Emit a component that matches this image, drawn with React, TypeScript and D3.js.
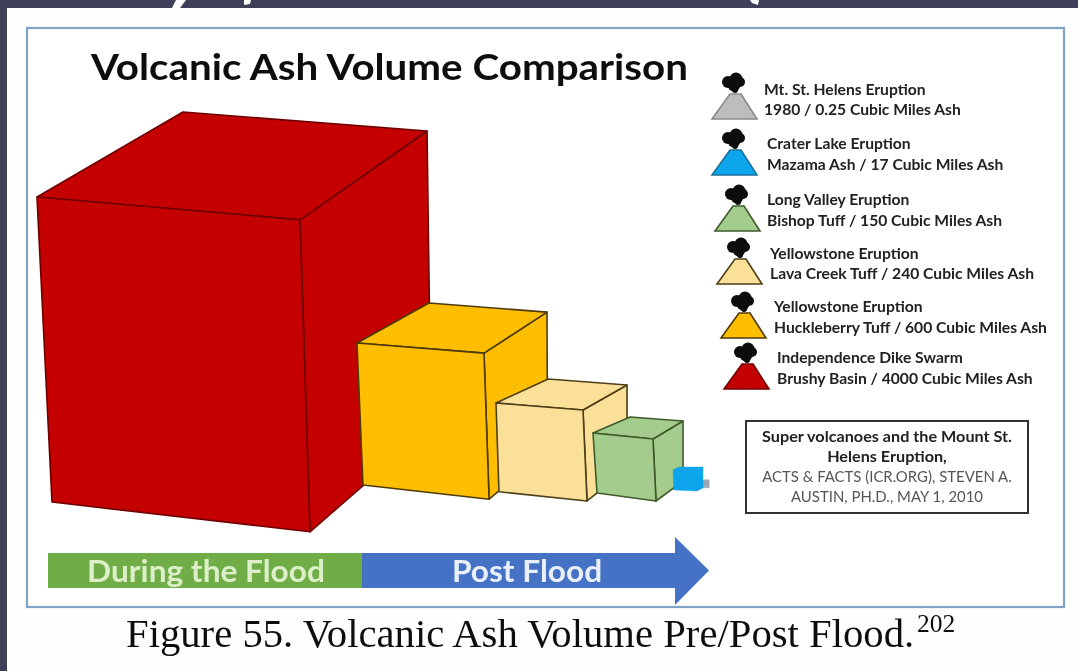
import React from "react";
import * as d3 from "d3";

// ---- data ----
const eruptionNames = ["Mt. St. Helens Eruption", "Crater Lake Eruption", "Long Valley Eruption", "Yellowstone Eruption", "Yellowstone Eruption", "Independence Dike Swarm"];
const ashSources = ["1980", "Mazama Ash", "Bishop Tuff", "Lava Creek Tuff", "Huckleberry Tuff", "Brushy Basin"];
const ashVolumes = [0.25, 17, 150, 240, 600, 4000];
const ashColors = ["#9aa7b0", "#0ea5ec", "#a4cc8c", "#fbe09a", "#ffbe00", "#c40000"];
const legendColors = ["#bdbdbd", "#0ea5ec", "#a4cc8c", "#fbe09a", "#ffbe00", "#c40000"];
const ashEdges = ["#9aa7b0", "#0ea5ec", "#3f5a2c", "#4d3f16", "#4d3a08", "#6e0000"];
const legendEdges = ["#8a8a8a", "#1c6f9c", "#3f5a2c", "#4d3f16", "#4d3a08", "#6e0000"];
const sourceLines = ["Super volcanoes and the Mount St.", "Helens Eruption,", "ACTS & FACTS (ICR.ORG), STEVEN A.", "AUSTIN, PH.D., MAY 1, 2010"];
const timelineLabels = ["During the Flood", "Post Flood"];

// ---- layout ----
const W = 1078, H = 671;
const cubeWidths = [6, 24, 60, 87, 127, 263];
const cubeLeft = [703, 673, 593, 496, 357, 37];
const cubeTop = [480, 470, 433, 403, 343, 197];
const tilt = [0, 0, 0.1, 0.08, 0.08, 0.087];
const dropX = [0, 0.03, 0.067, 0.034, 0.047, 0.057];
const dropY = [1.3, 0.83, 1, 1.02, 1.118, 1.16];
const cornerX = [0, 0, 0.05, 0.046, 0.04, 0.038];
const cornerY = [1.3, 0.875, 1.033, 1.046, 1.15, 1.186];
const depthX = [0, 0.25, 0.617, 0.6, 0.567, 0.555];
const depthY = [0, -0.12, -0.267, -0.276, -0.315, -0.323];
const depthRX = [0, 0.25, 0.5, 0.506, 0.496, 0.483];
const depthRY = [0, -0.125, -0.3, -0.287, -0.323, -0.338];
const floorX = [0, 0.25, 0.45, 0.46, 0.46, 0.46];
const floorY = [0, -0.12, -0.33, -0.36, -0.39, -0.4];
const drawOrder = [5, 4, 3, 2, 0, 1];

const legendLeft = [712, 712, 715, 717, 721, 724];
const legendBase = [119, 175, 231, 284, 338, 389];
const legendTextX = [764, 767, 767, 770, 774, 777];
const legendLine1 = [95, 149, 205, 259, 312, 363];
const legendLine2 = [115, 170, 226, 279, 333, 384];

const sideScale = d3.scaleLinear().domain(ashVolumes).range(cubeWidths);
const poly = d3.line<[number, number]>().curve(d3.curveLinearClosed);
const cloudLobes: [number, number, number][] = [[-6, -1, 6], [2, -4, 6.5], [6, -1, 5], [0, 2, 6.5], [1, 7, 3]];
const ui = "Lato, 'Open Sans', sans-serif";

function Stretched({ x, y, sx, anchor, children, ...rest }: any) {
  return <text transform={`translate(${x},${y}) scale(${sx},1)`} textAnchor={anchor} fontFamily={ui} {...rest}>{children}</text>;
}

function Cube({ i }: { i: number }) {
  const w = sideScale(ashVolumes[i]);
  const x = cubeLeft[i], y = cubeTop[i];
  const tl: [number, number] = [x, y];
  const tr: [number, number] = [x + w, y + w * tilt[i]];
  const bl: [number, number] = [x + w * dropX[i], y + w * dropY[i]];
  const br: [number, number] = [tr[0] + w * cornerX[i], tr[1] + w * cornerY[i]];
  const backTL: [number, number] = [tl[0] + w * depthX[i], tl[1] + w * depthY[i]];
  const backTR: [number, number] = [tr[0] + w * depthRX[i], tr[1] + w * depthRY[i]];
  const backBR: [number, number] = [br[0] + w * floorX[i], br[1] + w * floorY[i]];
  const sw = i === 5 ? 1.6 : i <= 1 ? 0.4 : 1.6;
  const common = { fill: ashColors[i], stroke: ashEdges[i], strokeWidth: sw, strokeLinejoin: "round" as const };
  return (
    <g>
      <path d={poly([tr, backTR, backBR, br])!} {...common} />
      <path d={poly([tl, backTL, backTR, tr])!} {...common} />
      <path d={poly([tl, tr, br, bl])!} {...common} />
    </g>
  );
}

function Volcano({ i }: { i: number }) {
  const l = legendLeft[i], b = legendBase[i];
  const shape: [number, number][] = [[l, b], [l + 18, b - 25], [l + 29, b - 25], [l + 45, b]];
  const cx = l + 22, cy = b - 36;
  return (
    <g>
      <path d={poly(shape)!} fill={legendColors[i]} stroke={legendEdges[i]} strokeWidth={1.6} />
      {cloudLobes.map(([dx, dy, r], k) => <circle key={k} cx={cx + dx} cy={cy + dy} r={r} fill="#0c0c0c" />)}
    </g>
  );
}

export default function App() {
  const arrow = {
    left: 48, split: 362, neck: 675, tip: 709, top: 553, bottom: 588, headTop: 537, headBottom: 605,
  };
  const mid = (arrow.top + arrow.bottom) / 2;
  const blueShape: [number, number][] = [
    [arrow.split, arrow.top], [arrow.neck, arrow.top], [arrow.neck, arrow.headTop], [arrow.tip, mid],
    [arrow.neck, arrow.headBottom], [arrow.neck, arrow.bottom], [arrow.split, arrow.bottom],
  ];
  return (
    <svg width={W} height={H} viewBox={`0 0 ${W} ${H}`}
      style={{ position: "absolute", left: 0, top: 0, display: "block" }}>
      <defs>
        <filter id="soft" x={0} y={0} width={W} height={H} filterUnits="userSpaceOnUse">
          <feGaussianBlur stdDeviation={0.7} />
        </filter>
      </defs>
      <g filter="url(#soft)">
        <rect x={0} y={0} width={W} height={H} fill="#3c4159" />
        <rect x={7} y={8} width={W - 7} height={H - 8} fill="#fefefe" />
        <path d="M176,0 L186,0 L180,8 L172,8 Z M244,0 L251,0 L250,4 L244,5 Z M750,0 L759,0 L758,5 L752,3 Z" fill="#fefefe" />
        <rect x={27} y={28} width={1037} height={579} fill="#ffffff" stroke="#7fa3c4" strokeWidth={2.2} />

        <Stretched x={91} y={80} sx={1.0} fontWeight={700} fontSize={36} fill="#111" textLength={597} lengthAdjust="spacingAndGlyphs">Volcanic Ash Volume Comparison</Stretched>

        {drawOrder.map(i => <Cube key={i} i={i} />)}

        {ashVolumes.map((v, i) => (
          <g key={i}>
            <Volcano i={i} />
            <Stretched x={legendTextX[i]} y={legendLine1[i]} sx={1.08} fontWeight={700} fontSize={14.5} fill="#222">{eruptionNames[i]}</Stretched>
            <Stretched x={legendTextX[i]} y={legendLine2[i]} sx={1.08} fontWeight={700} fontSize={14.5} fill="#222">{`${ashSources[i]} / ${v} Cubic Miles Ash`}</Stretched>
          </g>
        ))}

        <rect x={746} y={421} width={282} height={92} fill="#fff" stroke="#333" strokeWidth={2} />
        {sourceLines.map((t, i) => (
          <Stretched key={i} x={887} y={442 + i * 20} sx={i < 2 ? 1.118 : 1.03} anchor="middle" fontSize={14.5}
            fontWeight={i < 2 ? 700 : 400} fill={i < 2 ? "#222" : "#555"}>{t}</Stretched>
        ))}

        <rect x={arrow.left} y={arrow.top} width={arrow.split - arrow.left} height={arrow.bottom - arrow.top} fill="#70ad47" />
        <path d={poly(blueShape)!} fill="#4472c4" />
        <Stretched x={206} y={582} sx={1.055} anchor="middle" fontWeight={700} fontSize={30} fill="#dcefc8">{timelineLabels[0]}</Stretched>
        <Stretched x={527} y={582} sx={1.055} anchor="middle" fontWeight={700} fontSize={30} fill="#eaf0fa">{timelineLabels[1]}</Stretched>

        <text x={126} y={647} fontFamily="'Liberation Serif', serif" fontSize={40.7} fill="#111">Figure 55. Volcanic Ash Volume Pre/Post Flood.</text>
        <text x={917} y={632} fontFamily="'Liberation Serif', serif" fontSize={25.5} fill="#111">202</text>
      </g>
    </svg>
  );
}
